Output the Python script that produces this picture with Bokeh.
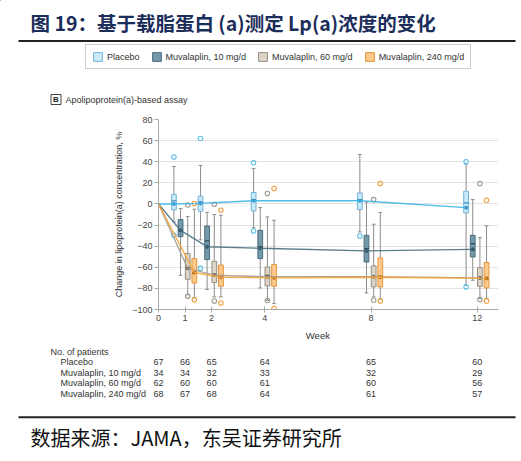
from bokeh.plotting import figure
from bokeh.layouts import column
from bokeh.models import FixedTicker, Label, Legend, LegendItem
from bokeh.core.properties import value
from bokeh.embed import file_html
from bokeh.resources import INLINE

# ---------------- data ----------------
weeks = [1, 2, 4, 8, 12]
group_names = ["Placebo", "Muvalaplin, 10 mg/d", "Muvalaplin, 60 mg/d", "Muvalaplin, 240 mg/d"]
group_offsets = [-0.42, -0.17, 0.10, 0.35]
baseline_mean = 0

placebo_low = [-17, -34, -22.5, -26.5, -77]
placebo_q1 = [-5.5, -7, -6.6, -5.3, -8.5]
placebo_median = [3, 2, 4, 4, 1]
placebo_q3 = [9, 7.3, 10.8, 10.4, 12]
placebo_high = [35.5, 36.5, 33.5, 46.8, 38]
placebo_mean = [0, 0.5, 3, 3, -3.5]
placebo_out_week = [1, 1, 2, 2, 4, 4, 8, 12, 12]
placebo_out_value = [44.5, -29.7, 62, -61, 39, -25.6, -30.3, 40, -78.6]

mg10_low = [-67.6, -81, -79.6, -84.3, -72.3]
mg10_q1 = [-31, -52.7, -51.8, -55, -50.2]
mg10_median = [-25, -35, -40.7, -42.3, -37.6]
mg10_q3 = [-14.8, -20.8, -25, -29.7, -29.7]
mg10_high = [-4.4, -8, -3.4, 1.9, 4.1]
mg10_mean = [-25, -40.5, -42, -44.5, -43]
mg10_out_week = []
mg10_out_value = []

mg60_low = [-86, -88, -91.3, -88, -89.7]
mg60_q1 = [-71.4, -74.5, -77.7, -78.6, -78]
mg60_median = [-60.6, -66.6, -67.6, -69.2, -70.7]
mg60_q3 = [-47, -54.3, -59.7, -58.7, -60.3]
mg60_high = [-12, -10, -12.3, -19.2, -31.9]
mg60_mean = [-61, -67.5, -69, -69, -70]
mg60_out_week = [1, 1, 2, 2, 4, 4, 8, 8, 12, 12]
mg60_out_value = [-1, -87.5, -0.3, -92, 9.9, -91.5, 4.1, -91.3, 19.3, -90.5]

mg240_low = [-89, -88, -94.4, -90, -89.5]
mg240_q1 = [-74.9, -78, -78, -78.6, -79.6]
mg240_median = [-65.4, -69, -69.2, -68.5, -70.7]
mg240_q3 = [-51.8, -57.8, -57.4, -51.2, -55.5]
mg240_high = [-5, -10.7, -15.5, -8.2, -20.8]
mg240_mean = [-65, -69.5, -70, -69.5, -70.5]
mg240_out_week = [1, 1, 2, 2, 4, 4, 8, 8, 12, 12]
mg240_out_value = [0.4, -90.8, -6, -93.8, 14.6, -99, 19.3, -92, 3.5, -92]

table_weeks = [0, 1, 2, 4, 8, 12]
patients_placebo = [67, 66, 65, 64, 65, 60]
patients_10 = [34, 34, 32, 33, 32, 29]
patients_60 = [62, 60, 60, 61, 60, 56]
patients_240 = [68, 67, 68, 64, 61, 57]

x_ticks = [0, 1, 2, 4, 8, 12]
y_ticks = [-100, -80, -60, -40, -20, 0, 20, 40, 60, 80]

title_text = "图 19：基于载脂蛋白 (a)测定 Lp(a)浓度的变化"
panel_letter = "B"
panel_text = "Apolipoprotein(a)-based assay"
x_label = "Week"
y_label = "Change in lipoprotein(a) concentration, %"
table_header = "No. of patients"
source_text = "数据来源：JAMA，东吴证券研究所"

# ---------------- styles ----------------
box_fill = ["#cbe9f8", "#7499a9", "#ddd5c8", "#fdc98c"]
box_line = ["#6fb6da", "#4a6e7d", "#978e80", "#e3983c"]
median_col = ["#3d8fbf", "#2f4f5c", "#6f675b", "#b56d1c"]
line_col = ["#3cb4e6", "#4a6f7e", "#a39c90", "#f6a43c"]
out_col = ["#5bbfe8", "#4f7381", "#a09a8e", "#f0a040"]
whisker_col = "#8c8c8c"
FONT = "Liberation Sans"
CJK = "Noto Sans CJK SC"
W = 521
X_END = 12.8

groups = [
    (placebo_low, placebo_q1, placebo_median, placebo_q3, placebo_high, placebo_mean, placebo_out_week, placebo_out_value),
    (mg10_low, mg10_q1, mg10_median, mg10_q3, mg10_high, mg10_mean, mg10_out_week, mg10_out_value),
    (mg60_low, mg60_q1, mg60_median, mg60_q3, mg60_high, mg60_mean, mg60_out_week, mg60_out_value),
    (mg240_low, mg240_q1, mg240_median, mg240_q3, mg240_high, mg240_mean, mg240_out_week, mg240_out_value),
]


def bare(fig):
    fig.outline_line_color = None
    fig.grid.grid_line_color = None
    fig.background_fill_color = "white"
    fig.border_fill_color = "white"
    return fig


# ---------------- top panel (title, rule, legend, panel label) ----------------
TOP_H = 110
top = bare(figure(width=W, height=TOP_H, x_range=(0, W), y_range=(TOP_H, 0),
                  output_backend="svg", toolbar_location=None, frame_align=False,
                  x_axis_location=None, y_axis_location=None, min_border=0))
top.text(x=[30], y=[22], text=[title_text], text_font=value(CJK), text_font_size="19.5px",
         text_font_style="bold", text_color="#1b2d5a", text_baseline="middle")
top.quad(left=[18], right=[515], top=[39.5], bottom=[41.5], fill_color="#222222", line_color=None)
top.quad(left=[50.5], right=[60.5], top=[94], bottom=[104], fill_color="white",
         line_color="#444444", line_width=1)
top.text(x=[55.5], y=[99.3], text=[panel_letter], text_font=value(FONT), text_font_size="8px",
         text_font_style="bold", text_color="#222222", text_align="center", text_baseline="middle")
top.text(x=[65], y=[99.3], text=[panel_text], text_font=value(FONT), text_font_size="9px",
         text_color="#333333", text_baseline="middle")

legend_renderers = []
for gi in range(4):
    # swatch-only renderers, placed outside the visible range
    legend_renderers.append(top.vbar(x=[-50], top=[-50], bottom=[-60], width=1, fill_color=box_fill[gi],
                                     line_color=box_line[gi], line_width=1))
legend = Legend(items=[LegendItem(label=group_names[i], renderers=[legend_renderers[i]]) for i in range(4)],
                orientation="horizontal", location=(85, TOP_H - 69),
                border_line_color="#9a9a9a", border_line_width=1,
                background_fill_color="white", background_fill_alpha=1,
                label_text_font=FONT, label_text_font_size="9px", label_text_color="#333333",
                glyph_width=11, glyph_height=11, label_height=11, label_standoff=4,
                spacing=11, padding=6, margin=0)
top.add_layout(legend)

# ---------------- main chart ----------------
MAIN_H = 220
p = figure(width=W, height=MAIN_H, x_range=(0, X_END), y_range=(-100, 80),
           output_backend="svg", toolbar_location=None, frame_align=False,
           min_border_left=158, min_border_right=23, min_border_top=9, min_border_bottom=21)
p.outline_line_color = None
p.background_fill_color = "white"
p.border_fill_color = "white"

p.xaxis.ticker = FixedTicker(ticks=x_ticks)
p.yaxis.ticker = FixedTicker(ticks=y_ticks)
p.xgrid.grid_line_color = None
p.ygrid.grid_line_color = "#e3e3e3"
p.axis.minor_tick_line_color = None
p.axis.axis_line_color = "#a8a8a8"
p.axis.major_tick_line_color = "#a8a8a8"
p.axis.major_label_text_font = FONT
p.axis.major_label_text_font_size = "9px"
p.axis.major_label_text_color = "#444444"
p.xaxis.major_tick_in = 3
p.xaxis.major_tick_out = 3
p.yaxis.major_tick_in = 0
p.yaxis.major_tick_out = 4
p.xaxis.major_label_standoff = 2
p.yaxis.major_label_standoff = 2
p.yaxis.axis_label = y_label
p.yaxis.axis_label_text_font = FONT
p.yaxis.axis_label_text_font_size = "9px"
p.yaxis.axis_label_text_font_style = "normal"
p.yaxis.axis_label_text_color = "#333333"
p.yaxis.axis_label_standoff = 5

bw = 0.18
cap = 0.14
for gi, (lo, q1, med, q3, hi, mean, ow, ov) in enumerate(groups):
    xs = [w + group_offsets[gi] for w in weeks]
    p.segment(x0=xs, y0=q3, x1=xs, y1=hi, line_color=whisker_col, line_width=1)
    p.segment(x0=xs, y0=q1, x1=xs, y1=lo, line_color=whisker_col, line_width=1)
    p.segment(x0=[x - cap / 2 for x in xs], y0=hi, x1=[x + cap / 2 for x in xs], y1=hi,
              line_color=whisker_col, line_width=1)
    p.segment(x0=[x - cap / 2 for x in xs], y0=lo, x1=[x + cap / 2 for x in xs], y1=lo,
              line_color=whisker_col, line_width=1)
    p.vbar(x=xs, width=bw, top=q3, bottom=q1, fill_color=box_fill[gi],
           line_color=box_line[gi], line_width=1)
    p.segment(x0=[x - bw / 2 for x in xs], y0=med, x1=[x + bw / 2 for x in xs], y1=med,
              line_color=median_col[gi], line_width=1.3)
    p.scatter(x=xs, y=mean, size=3, marker="circle", fill_color=median_col[gi],
              line_color=median_col[gi])
    if ow:
        p.scatter(x=[w + group_offsets[gi] for w in ow], y=ov, size=4.5, marker="circle",
                  fill_color="white", fill_alpha=0, line_color=out_col[gi], line_width=1.1)

for gi, g in enumerate(groups):
    lx = [0] + [w + group_offsets[gi] for w in weeks]
    ly = [baseline_mean] + list(g[5])
    p.line(lx, ly, line_color=line_col[gi], line_width=1.4, line_alpha=0.9)

# ---------------- bottom panel (x label, table, rule, source) ----------------
BOT_TOP = TOP_H + MAIN_H          # page y where this panel starts
BOT_H = 461 - BOT_TOP
px_per_week = (W - 158 - 23) / X_END
bot = bare(figure(width=W, height=BOT_H,
                  x_range=(-158 / px_per_week, (W - 158) / px_per_week),
                  y_range=(BOT_TOP + BOT_H, BOT_TOP),
                  output_backend="svg", toolbar_location=None, frame_align=False,
                  x_axis_location=None, y_axis_location=None, min_border=0))


def blab(text, x, y, size="9px", font=FONT, color="#333333", align="left", x_units="screen"):
    bot.add_layout(Label(text=text, x=x, y=y, x_units=x_units, y_units="data",
                         text_font=font, text_font_size=size, text_color=color,
                         text_align=align, text_baseline="middle"))


blab(x_label, 6, 335, size="9.5px", align="center", x_units="data")
blab(table_header, 50, 351)
row_y = [361.5, 372, 382.8, 393.8]
rows = [patients_placebo, patients_10, patients_60, patients_240]
for i in range(4):
    blab(group_names[i], 60, row_y[i])
    bot.text(x=table_weeks, y=[row_y[i]] * len(table_weeks), text=[str(n) for n in rows[i]],
             text_font=value(FONT), text_font_size="9px", text_color="#333333",
             text_align="center", text_baseline="middle")
bot.quad(left=[-158 / px_per_week + 18 / px_per_week], right=[(515 - 158) / px_per_week],
         top=[415.7], bottom=[417.7], fill_color="#222222", line_color=None)
blab(source_text, 30, 437, size="20px", font=CJK, color="#111111")

layout = column(top, p, bot, spacing=0)
open("out.html", "w").write(file_html(layout, INLINE))
